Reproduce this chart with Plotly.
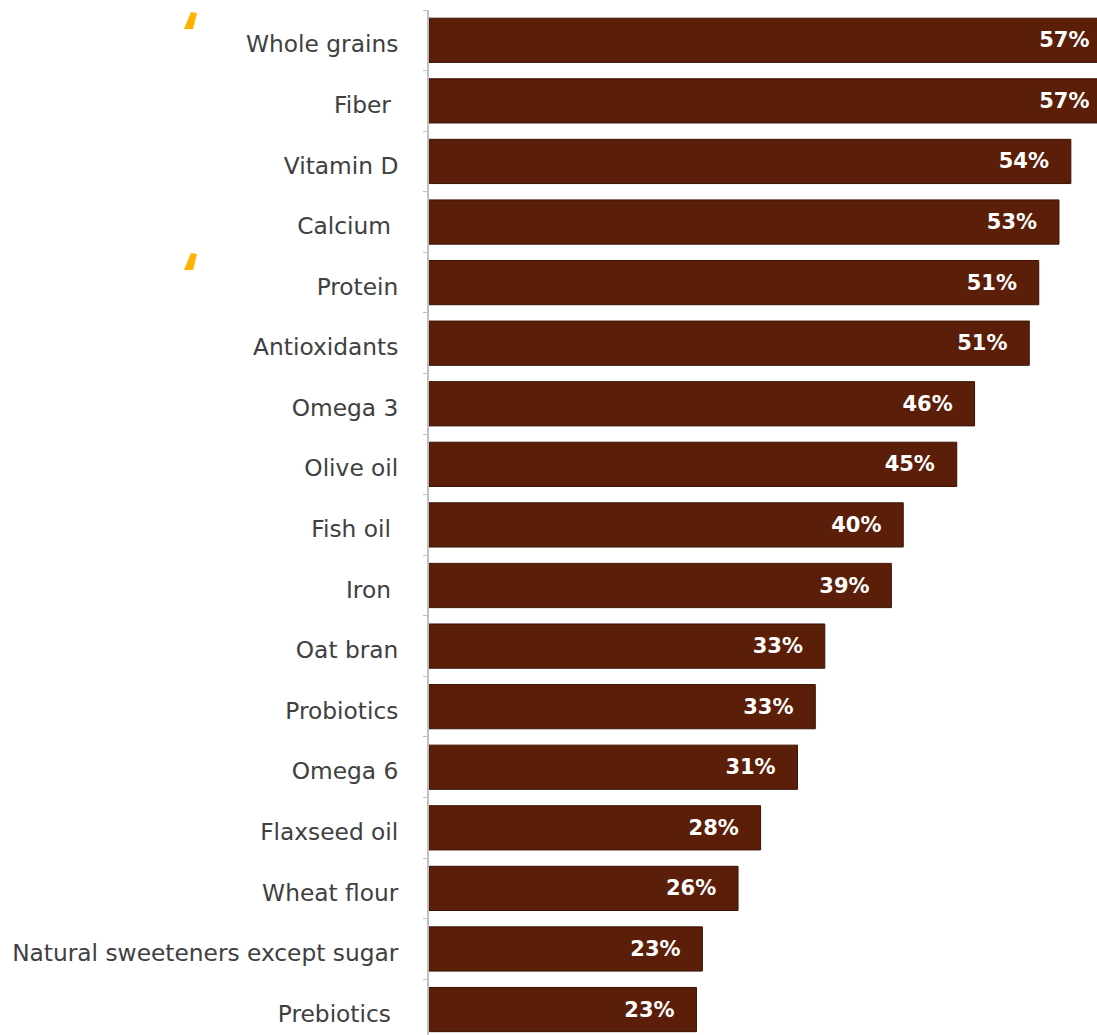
import plotly.graph_objects as go

categories = ["Whole grains", "Fiber\u00a0", "Vitamin D", "Calcium\u00a0", "Protein",
              "Antioxidants", "Omega 3", "Olive oil", "Fish oil\u00a0", "Iron\u00a0",
              "Oat bran", "Probiotics", "Omega 6", "Flaxseed oil", "Wheat flour",
              "Natural sweeteners except sugar", "Prebiotics\u00a0"]
values = [57.4, 57.4, 54.0, 53.0, 51.3, 50.5, 45.9, 44.4, 39.9, 38.9,
          33.3, 32.5, 31.0, 27.9, 26.0, 23.0, 22.5]
value_labels = ["57%", "57%", "54%", "53%", "51%", "51%", "46%", "45%", "40%", "39%",
                "33%", "33%", "31%", "28%", "26%", "23%", "23%"]

pad = "\u00a0\u00a0\u2009"
fig = go.Figure(go.Bar(
    x=values, y=categories, orientation="h",
    marker=dict(color="#5b1e08", line=dict(color="#3a1204", width=1)),
    text=[t + pad for t in value_labels],
    textposition="inside", insidetextanchor="end",
    textfont=dict(family="DejaVu Sans", size=21, color="white", weight="bold"),
    constraintext="none",
    cliponaxis=True,
))

fig.update_layout(
    width=1097, height=1035,
    margin=dict(l=429, r=0, t=10, b=0),
    paper_bgcolor="white", plot_bgcolor="white",
    bargap=0.27,
    showlegend=False,
    xaxis=dict(range=[0, 56.2], visible=False, fixedrange=True),
    yaxis=dict(
        categoryorder="array", categoryarray=categories,
        range=[16.42, -0.5],
        showline=True, linecolor="#bfbfbf", linewidth=2,
        ticks="outside", tickson="boundaries", ticklen=4, tickcolor="#bfbfbf",
        tickfont=dict(family="DejaVu Sans", size=23.3, color="#404040"),
        ticklabelstandoff=24,
        ticklabelshift=-4,
        showgrid=False,
    ),
    shapes=[
        dict(type="path", xref="paper", yref="paper",
             path="M -0.3668 0.9815 L -0.3533 0.9815 L -0.3473 0.9971 L -0.3563 0.9980 Z",
             fillcolor="#ffb300", line=dict(width=0)),
        dict(type="path", xref="paper", yref="paper",
             path="M -0.3668 0.7463 L -0.3533 0.7463 L -0.3473 0.7620 L -0.3563 0.7629 Z",
             fillcolor="#ffb300", line=dict(width=0)),
    ],
)

fig.write_html("out.html")
